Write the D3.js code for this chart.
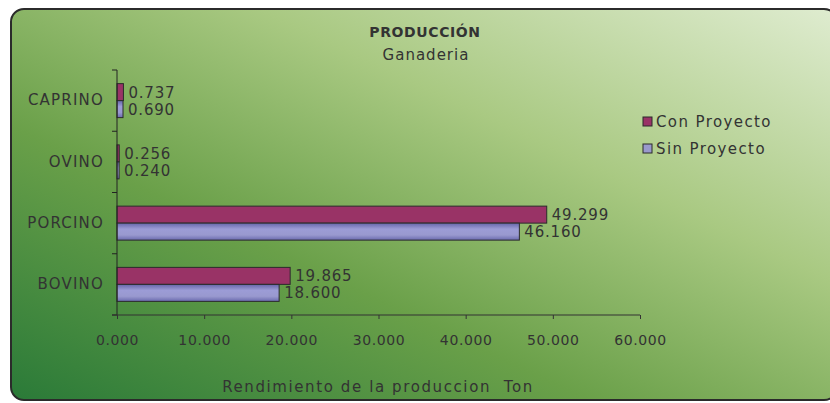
<!DOCTYPE html>
<html>
<head>
  <meta charset="utf-8">
  <title>Produccion Ganaderia</title>
  <script src="https://d3js.org/d3.v7.min.js"></script>
  <style>
    body { margin: 0; background: #fff; }
    text { font-family: "DejaVu Sans", sans-serif; fill: #333; }
  </style>
</head>
<body>
<script>

var categories = ["CAPRINO", "OVINO", "PORCINO", "BOVINO"];
var conProyecto = [0.737, 0.256, 49.299, 19.865];
var sinProyecto = [0.690, 0.240, 46.160, 18.600];
var seriesNames = ["Con Proyecto", "Sin Proyecto"];
var xTicks = [0, 10, 20, 30, 40, 50, 60];

var width = 830, height = 403;
var fmt = d3.format(".3f");

var svg = d3.select("body").append("svg")
    .attr("width", width)
    .attr("height", height);

var defs = svg.append("defs");

var bg = defs.append("linearGradient")
    .attr("id", "bg")
    .attr("x1", "0%").attr("y1", "100%")
    .attr("x2", "100%").attr("y2", "0%");
bg.append("stop").attr("offset", "0%").attr("stop-color", "#2a7a38");
bg.append("stop").attr("offset", "35%").attr("stop-color", "#6aa049");
bg.append("stop").attr("offset", "65%").attr("stop-color", "#a9c982");
bg.append("stop").attr("offset", "100%").attr("stop-color", "#dfecd0");

var sinGrad = defs.append("linearGradient")
    .attr("id", "sinGrad")
    .attr("x1", 0).attr("y1", 0).attr("x2", 0).attr("y2", 1);
sinGrad.append("stop").attr("offset", "0%").attr("stop-color", "#6666aa");
sinGrad.append("stop").attr("offset", "35%").attr("stop-color", "#9c9cd6");
sinGrad.append("stop").attr("offset", "70%").attr("stop-color", "#9999cf");
sinGrad.append("stop").attr("offset", "100%").attr("stop-color", "#6a6aae");

// panel
svg.append("rect")
    .attr("x", 11).attr("y", 9)
    .attr("width", 826).attr("height", 391)
    .attr("rx", 13)
    .attr("fill", "url(#bg)")
    .attr("stroke", "#2b2b2b")
    .attr("stroke-width", 2);

var x = d3.scaleLinear().domain([0, 60]).range([117, 640]);

var y = d3.scaleBand()
    .domain(categories)
    .range([70, 315])
    .paddingInner(0.445)
    .paddingOuter(0.2225);

var y1 = d3.scaleBand()
    .domain(seriesNames)
    .range([0, y.bandwidth()]);

var colors = { "Con Proyecto": "#993366", "Sin Proyecto": "url(#sinGrad)" };
var legendColors = { "Con Proyecto": "#993366", "Sin Proyecto": "#9999cc" };

var rows = categories.map(function(c, i) {
  return { cat: c, values: [
    { name: "Con Proyecto", value: conProyecto[i] },
    { name: "Sin Proyecto", value: sinProyecto[i] }
  ]};
});

// title
svg.append("text")
    .attr("x", 425).attr("y", 37)
    .attr("text-anchor", "middle")
    .style("font-size", "14px")
    .style("font-weight", "bold")
    .style("letter-spacing", "0.6px")
    .text("PRODUCCIÓN");
svg.append("text")
    .attr("x", 426).attr("y", 60)
    .attr("text-anchor", "middle")
    .style("font-size", "15px")
    .style("letter-spacing", "1px")
    .text("Ganaderia");

// bars
var groups = svg.selectAll(".grp")
    .data(rows)
    .enter().append("g")
    .attr("class", "grp")
    .attr("transform", function(d) { return "translate(0," + y(d.cat) + ")"; });

groups.selectAll("rect")
    .data(function(d) { return d.values; })
    .enter().append("rect")
    .attr("x", x(0))
    .attr("y", function(d) { return y1(d.name); })
    .attr("width", function(d) { return x(d.value) - x(0); })
    .attr("height", y1.bandwidth())
    .attr("fill", function(d) { return colors[d.name]; })
    .attr("stroke", "#2b2b2b")
    .attr("stroke-width", 1);

groups.selectAll(".lbl")
    .data(function(d) { return d.values; })
    .enter().append("text")
    .attr("class", "lbl")
    .attr("x", function(d) { return x(d.value) + 5; })
    .attr("y", function(d) { return y1(d.name) + y1.bandwidth() / 2; })
    .attr("dy", "0.36em")
    .style("font-size", "15px")
    .style("letter-spacing", "0.8px")
    .text(function(d) { return fmt(d.value); });

// y axis
var yAxis = svg.append("g")
    .attr("transform", "translate(" + x(0) + ",0)")
    .call(d3.axisLeft(y).tickSize(0).tickPadding(13));
yAxis.select(".domain").attr("stroke", "#222").attr("d", "M0,70V315");
yAxis.selectAll("text")
    .style("font-size", "15px")
    .style("letter-spacing", "1.2px")
    .attr("fill", "#333");

var bounds = categories.map(function(c) { return y(c) - y.step() * y.paddingInner() / 2; });
bounds.push(315);
yAxis.selectAll(".bnd")
    .data(bounds)
    .enter().append("line")
    .attr("class", "bnd")
    .attr("x1", -5).attr("x2", 0)
    .attr("y1", function(d) { return d; })
    .attr("y2", function(d) { return d; })
    .attr("stroke", "#222");

// x axis
var xAxis = svg.append("g")
    .attr("transform", "translate(0,315)")
    .call(d3.axisBottom(x).tickValues(xTicks).tickFormat(fmt).tickSize(4).tickPadding(16).tickSizeOuter(0));
xAxis.select(".domain").attr("stroke", "#333").attr("stroke-width", 1.2)
    .attr("d", "M" + (x(0) - 5) + ",0H" + x(60));
xAxis.selectAll("line").attr("stroke", "#333");
xAxis.selectAll("text")
    .style("font-size", "14px")
    .style("letter-spacing", "0.6px")
    .attr("fill", "#333");

svg.append("text")
    .attr("x", 378).attr("y", 392)
    .attr("text-anchor", "middle")
    .style("font-size", "15px")
    .style("letter-spacing", "1.6px")
    .style("white-space", "pre")
    .text("Rendimiento de la produccion  Ton");

// legend
var legend = svg.selectAll(".leg")
    .data(seriesNames)
    .enter().append("g")
    .attr("class", "leg")
    .attr("transform", function(d, i) { return "translate(643," + (117 + i * 27) + ")"; });
legend.append("rect")
    .attr("width", 9).attr("height", 9)
    .attr("fill", function(d) { return legendColors[d]; })
    .attr("stroke", "#2b2b2b");
legend.append("text")
    .attr("x", 13).attr("y", 5)
    .attr("dy", "0.36em")
    .style("font-size", "15px")
    .style("letter-spacing", "1.4px")
    .text(function(d) { return d; });

</script>
</body>
</html>
